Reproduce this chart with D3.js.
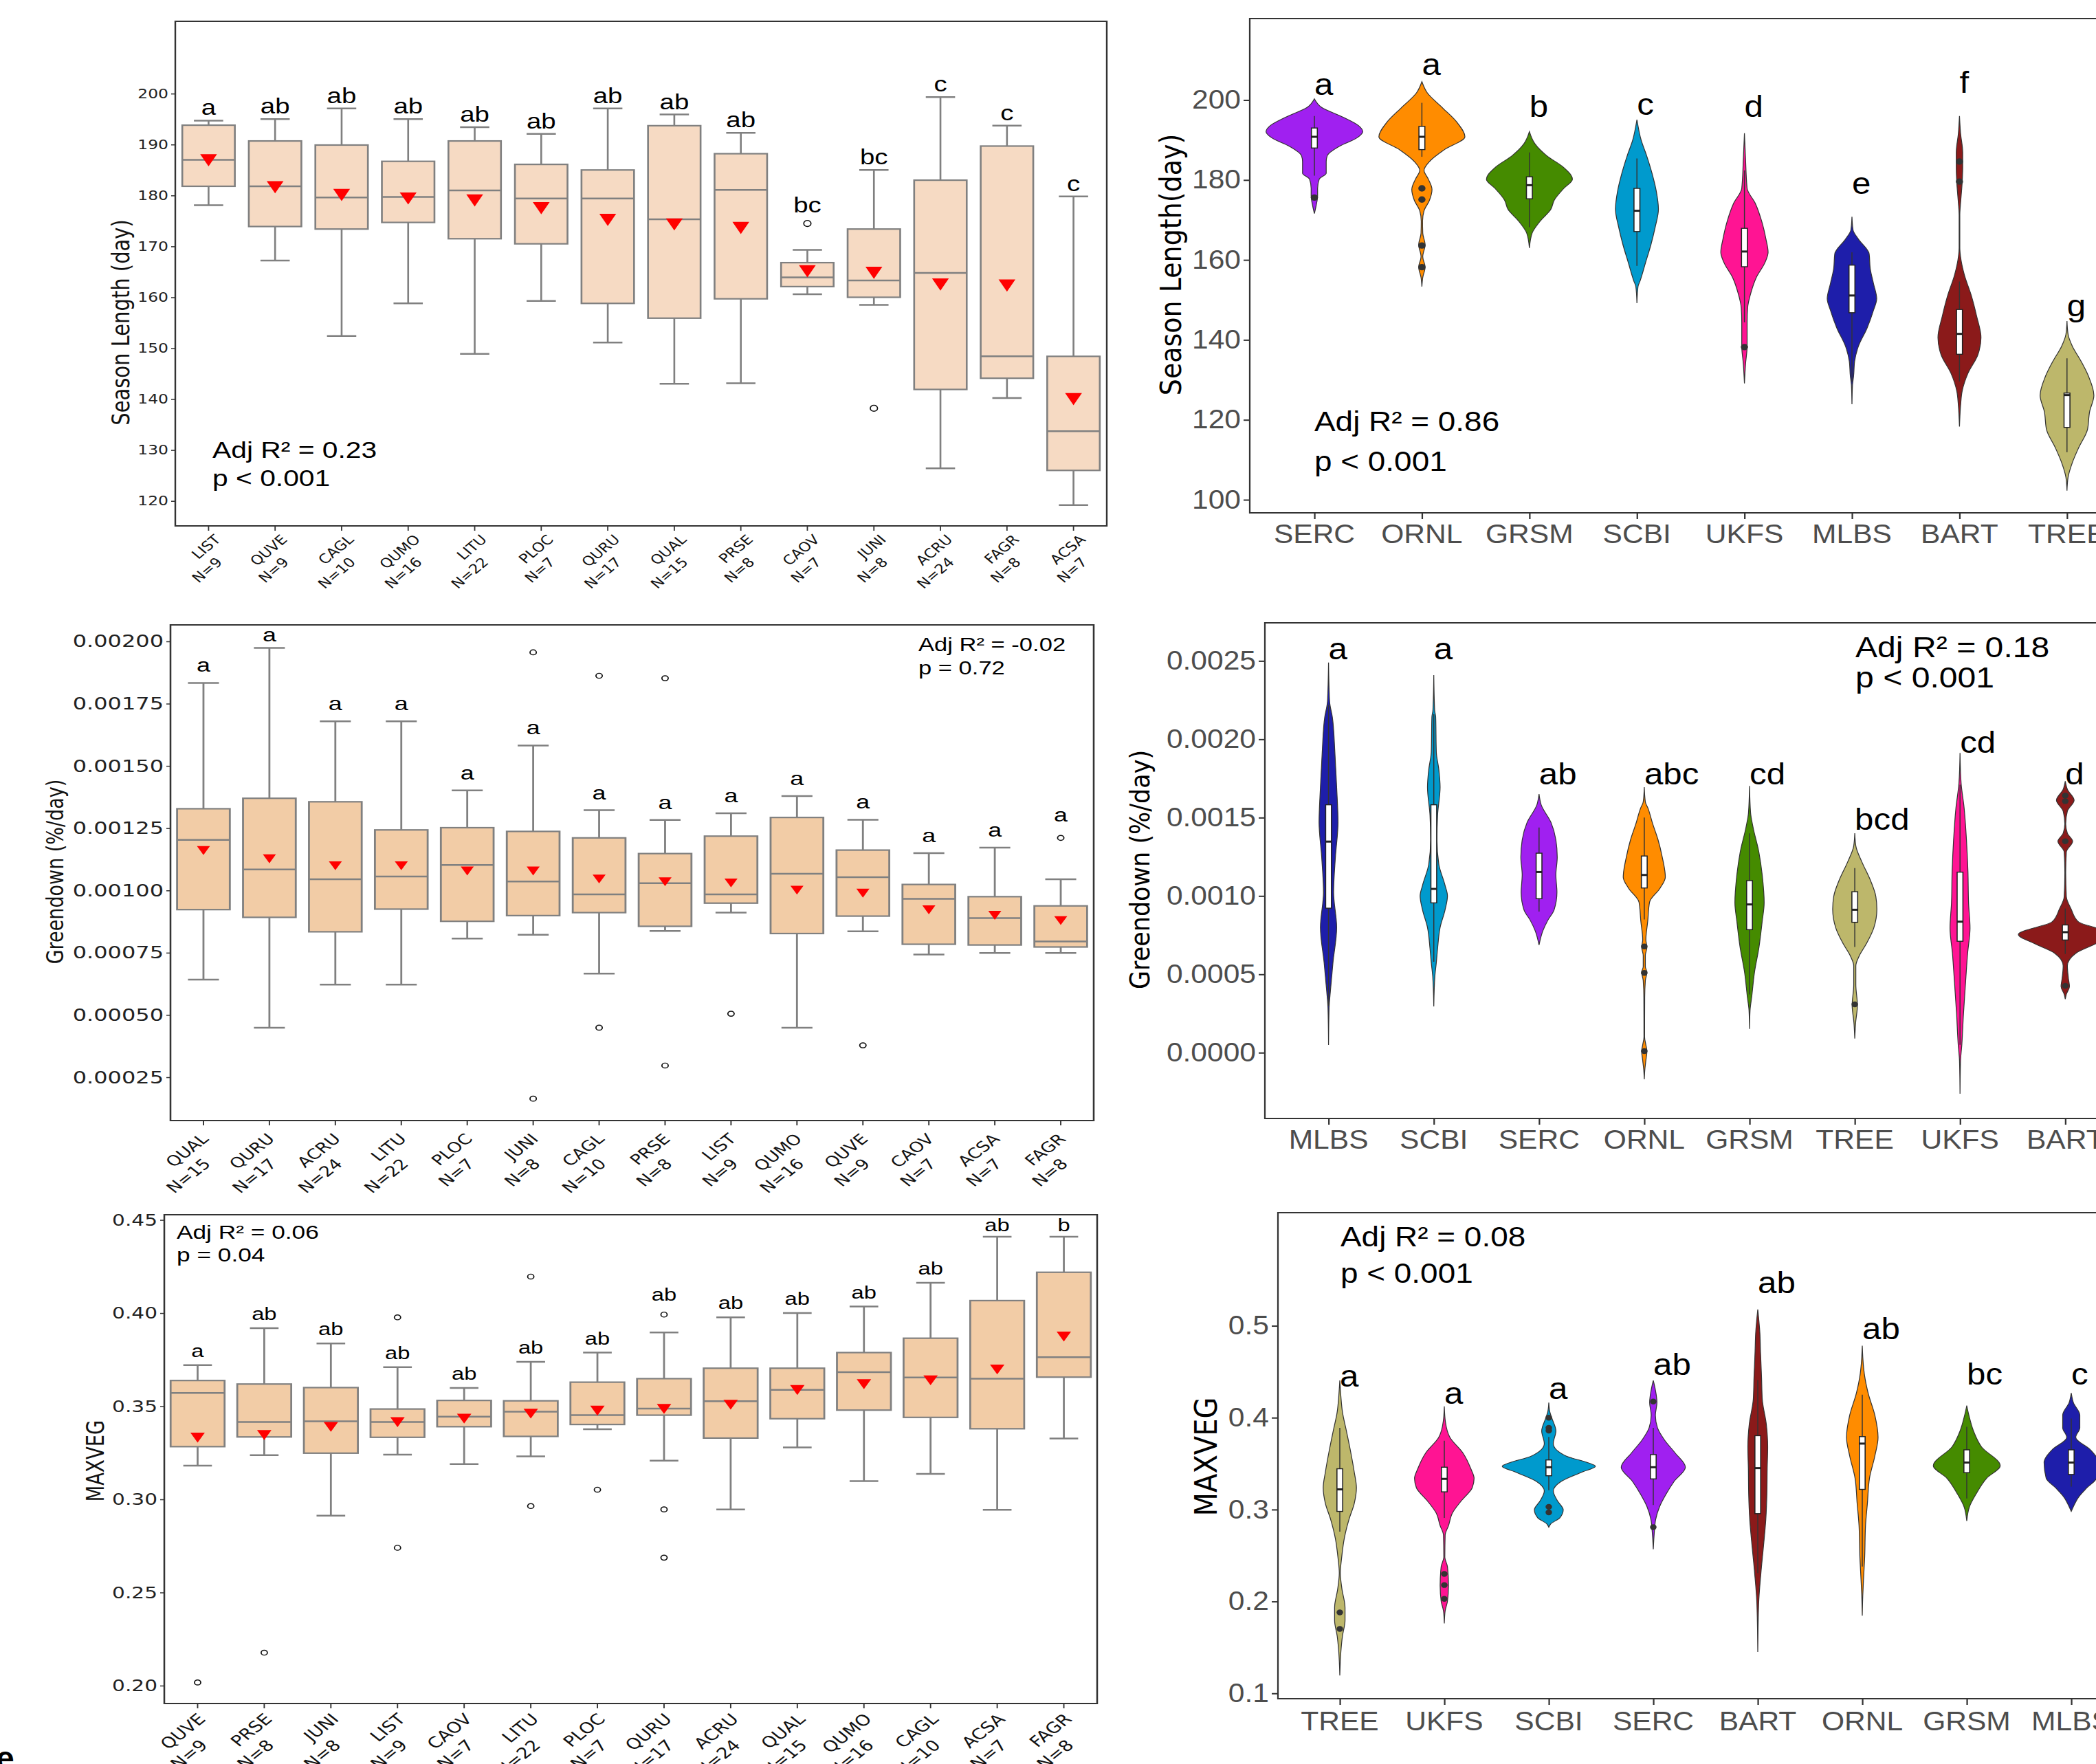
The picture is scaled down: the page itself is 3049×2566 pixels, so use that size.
<!DOCTYPE html>
<html lang="en">
<head>
<meta charset="UTF-8">
<title>Season length, greendown and MAXVEG by species and site</title>
<script src="https://cdn.jsdelivr.net/npm/d3@7"></script>
<style>
  body { margin: 0; background: #fff; }
  svg { display: block; }
</style>
</head>
<body>
<div id="container"></div>
<script>
// ---------- Season length by species (box plots) ----------
const slSpecies = ["LIST","QUVE","CAGL","QUMO","LITU","PLOC","QURU","QUAL","PRSE","CAOV","JUNI","ACRU","FAGR","ACSA"];
const slN       = [9,9,10,16,22,7,17,15,8,7,8,24,8,7];
const slLo   = [178.1,167.2,152.4,158.8,148.9,159.3,151.1,143.0,143.1,160.6,158.5,126.4,140.2,119.2];
const slQ1   = [181.8,173.9,173.4,174.7,171.5,170.5,158.8,155.9,159.7,162.1,160.0,141.9,144.1,126.0];
const slMed  = [187.0,181.8,179.6,179.7,181.0,179.4,179.4,175.3,181.1,163.9,163.3,164.8,148.4,133.7];
const slQ3   = [193.8,190.7,189.9,186.7,190.7,186.1,185.0,193.7,188.2,166.8,173.4,183.0,189.7,148.4];
const slHi   = [194.7,195.0,197.1,195.0,193.4,192.1,197.1,195.9,192.3,169.3,185.0,199.3,193.7,179.8];
const slMean = [187.3,182.0,180.5,179.8,179.4,177.9,175.6,174.7,174.0,165.5,165.2,162.9,162.7,140.4];
const slOut  = [[],[],[],[],[],[],[],[],[],[174.5],[138.2],[],[],[]];
const slLetters = ["a","ab","ab","ab","ab","ab","ab","ab","ab","bc","bc","c","c","c"];

// ---------- Greendown by species ----------
const gdSpecies = ["QUAL","QURU","ACRU","LITU","PLOC","JUNI","CAGL","PRSE","LIST","QUMO","QUVE","CAOV","ACSA","FAGR"];
const gdN       = [15,17,24,22,7,8,10,8,9,16,9,7,7,8];
const gdLo   = [0.000642,0.000449,0.000622,0.000622,0.000807,0.000822,0.000666,0.000837,0.000911,0.000449,0.000836,0.000743,0.000749,0.000749];
const gdQ1   = [0.000923,0.000892,0.000834,0.000925,0.000876,0.000899,0.000911,0.000856,0.000949,0.000827,0.000897,0.000784,0.000781,0.000773];
const gdMed  = [0.001203,0.001084,0.001045,0.001056,0.001102,0.001036,0.000984,0.001029,0.000984,0.001067,0.001053,0.000966,0.000889,0.000795];
const gdQ3   = [0.001328,0.001370,0.001356,0.001243,0.001252,0.001237,0.001211,0.001148,0.001218,0.001293,0.001162,0.001024,0.000975,0.000938];
const gdHi   = [0.001833,0.001974,0.001679,0.001679,0.001402,0.001582,0.001322,0.001283,0.001310,0.001379,0.001284,0.001150,0.001172,0.001045];
const gdMean = [0.001166,0.001133,0.001105,0.001105,0.001084,0.001084,0.001052,0.001041,0.001036,0.001007,0.000995,0.000928,0.000906,0.000885];
const gdOut  = [[],[],[],[],[],[0.001956,0.000164],[0.001862,0.000449],[0.001852,0.000297],[0.000505],[],[0.000378],[],[],[0.001211]];
const gdLetters = ["a","a","a","a","a","a","a","a","a","a","a","a","a","a"];

// ---------- MAXVEG by species ----------
const mvSpecies = ["QUVE","PRSE","JUNI","LIST","CAOV","LITU","PLOC","QURU","ACRU","QUAL","QUMO","CAGL","ACSA","FAGR"];
const mvN       = [9,8,8,9,7,22,7,17,24,15,16,10,7,8];
const mvLo   = [0.3181,0.3237,0.2912,0.3240,0.3189,0.3231,0.3377,0.3208,0.2946,0.3279,0.3098,0.3137,0.2944,0.3327];
const mvQ1   = [0.3283,0.3335,0.3248,0.3333,0.3390,0.3338,0.3402,0.3452,0.3329,0.3433,0.3479,0.3440,0.3379,0.3656];
const mvMed  = [0.3571,0.3415,0.3419,0.3415,0.3444,0.3471,0.3452,0.3487,0.3527,0.3588,0.3683,0.3654,0.3648,0.3763];
const mvQ3   = [0.3638,0.3619,0.3600,0.3485,0.3531,0.3529,0.3629,0.3648,0.3704,0.3704,0.3788,0.3865,0.4067,0.4219];
const mvHi   = [0.3721,0.3919,0.3837,0.3710,0.3598,0.3738,0.3788,0.3896,0.3977,0.4000,0.4035,0.4163,0.4410,0.4410];
const mvMean = [0.3340,0.3354,0.3398,0.3423,0.3442,0.3469,0.3485,0.3494,0.3517,0.3596,0.3627,0.3648,0.3706,0.3883];
const mvOut  = [[0.2017],[0.2177],[],[0.3977,0.2740],[],[0.4196,0.2964],[0.3052],[0.3992,0.2946,0.2687],[],[],[],[],[],[]];
const mvLetters = ["a","ab","ab","ab","ab","ab","ab","ab","ab","ab","ab","ab","ab","b"];

// ---------- Season length by site (violins) ----------
// violin outlines: [value, half width as share of category step]
const slSites = ["SERC","ORNL","GRSM","SCBI","UKFS","MLBS","BART","TREE"];
const slSiteLetters = ["a","a","b","c","d","e","f","g"];
const slSiteLetterAt = [204.0,208.9,198.4,199.0,198.4,179.1,204.4,148.5];
const slViolins = [
  [[200.3,0],[198.1,0.07],[195.8,0.26],[193.6,0.41],[192.1,0.45],[190.6,0.40],[188.4,0.23],[186.1,0.12],[184.6,0.11],[181.7,0.11],[180.2,0.045],[177.9,0.03],[176.1,0.03],[173.4,0.015],[171.6,0]],
  [[204.6,0],[201.8,0.05],[198.1,0.19],[194.3,0.33],[190.8,0.40],[187.6,0.21],[184.6,0.07],[182.4,0.02],[180.2,0.06],[177.6,0.094],[174.9,0.07],[172.3,0.02],[169.7,0.006],[166.7,0.008],[163.8,0.03],[160.8,0.008],[158.2,0.03],[155.6,0.008],[153.3,0]],
  [[192.1,0],[189.1,0.05],[186.1,0.16],[183.1,0.32],[180.2,0.40],[177.9,0.32],[174.9,0.23],[172.7,0.20],[169.7,0.10],[166.7,0.025],[163.0,0]],
  [[195.1,0],[189.9,0.04],[186.1,0.09],[181.7,0.14],[177.2,0.18],[172.7,0.20],[168.2,0.17],[163.8,0.13],[159.3,0.08],[154.8,0.03],[153.3,0.01],[149.2,0]],
  [[191.7,0],[185.4,0.01],[177.9,0.025],[174.2,0.10],[169.7,0.16],[165.2,0.20],[161.9,0.22],[159.3,0.19],[155.6,0.11],[151.8,0.06],[148.1,0.03],[144.4,0.025],[138.4,0.025],[133.9,0.01],[129.1,0]],
  [[170.8,0],[167.5,0.01],[165.2,0.06],[161.5,0.16],[157.8,0.17],[154.1,0.20],[150.3,0.23],[147.4,0.20],[142.9,0.14],[138.4,0.06],[134.7,0.025],[130.9,0.015],[128.7,0.005],[123.9,0]],
  [[196.0,0],[191.7,0.01],[186.9,0.03],[183.1,0.03],[179.4,0.025],[174.2,0.01],[171.2,0.003],[163.0,0.003],[160.8,0.01],[156.3,0.045],[151.1,0.11],[145.9,0.16],[140.6,0.20],[136.2,0.17],[131.7,0.08],[127.2,0.025],[123.5,0.01],[118.3,0]],
  [[144.7,0],[141.4,0.01],[138.4,0.05],[134.7,0.13],[130.9,0.20],[126.1,0.25],[122.0,0.21],[117.5,0.19],[113.1,0.11],[109.3,0.05],[105.6,0.01],[102.3,0]]
];
// [lower whisker, q1, median, q3, upper whisker]
const slSiteBox = [[181.1,188.0,190.8,193.0,196.0],[185.8,187.6,190.8,193.4,199.3],[168.2,175.3,178.7,180.8,186.9],[158.5,167.1,172.3,177.9,185.4],
                   [144.4,158.3,162.1,167.9,182.4],[129.5,146.8,151.1,158.7,161.9],[129.6,136.4,141.5,147.6,154.6],[111.9,118.1,126.2,126.7,135.4]];
const slSiteDots = [[175.6],[177.9,175.1,163.6,158.2],[],[],[138.2],[],[184.6,179.6],[]];

// ---------- Greendown by site ----------
const gdSites = ["MLBS","SCBI","SERC","ORNL","GRSM","TREE","UKFS","BART"];
const gdSiteLetters = ["a","a","ab","abc","cd","bcd","cd","d"];
const gdSiteLetterAt = [0.002578,0.002578,0.001779,0.001779,0.001779,0.001488,0.001981,0.001779];
const gdViolins = [
  [[0.00249,0],[0.002242,0.01],[0.002142,0.036],[0.001918,0.06],[0.001694,0.077],[0.00147,0.09],[0.001247,0.065],[0.001023,0.048],[0.000799,0.077],[0.000575,0.042],[0.000396,0.018],[0.000284,0.005],[0.000049,0]],
  [[0.00241,0],[0.002187,0.008],[0.002142,0.018],[0.001918,0.024],[0.001806,0.048],[0.001694,0.06],[0.001515,0.036],[0.001358,0.03],[0.001202,0.048],[0.001068,0.107],[0.001,0.13],[0.000911,0.107],[0.000799,0.06],[0.000665,0.036],[0.000575,0.024],[0.000486,0.01],[0.000295,0]],
  [[0.00165,0],[0.001582,0.02],[0.00147,0.113],[0.001358,0.16],[0.001247,0.173],[0.001135,0.16],[0.001023,0.17],[0.000911,0.143],[0.000844,0.083],[0.000777,0.036],[0.000687,0]],
  [[0.001694,0],[0.0016,0.01],[0.00156,0.035],[0.00146,0.08],[0.00136,0.13],[0.00125,0.17],[0.00112,0.2],[0.00105,0.15],[0.00096,0.05],[0.00084,0.033],[0.00072,0.015],[0.000674,0.025],[0.00062,0.01],[0.00055,0.01],[0.000513,0.025],[0.00046,0.01],[0.00035,0.004],[0.0001,0.003],[0.00005,0.015],[0.00001,0.025],[-0.00005,0.015],[-0.00011,0.005],[-0.00017,0]],
  [[0.001702,0],[0.00153,0.01],[0.00144,0.033],[0.001279,0.089],[0.001118,0.123],[0.000957,0.139],[0.000836,0.12],[0.000674,0.09],[0.000513,0.047],[0.000352,0.02],[0.000271,0.005],[0.000151,0]],
  [[0.0014,0],[0.001319,0.01],[0.001218,0.067],[0.001098,0.15],[0.000997,0.2],[0.000916,0.21],[0.000795,0.18],[0.000695,0.11],[0.000614,0.04],[0.000554,0.01],[0.000433,0.01],[0.000302,0.025],[0.000191,0.008],[0.00009,0]],
  [[0.001913,0],[0.001722,0.01],[0.001561,0.039],[0.001359,0.061],[0.001158,0.075],[0.000957,0.081],[0.000795,0.095],[0.000634,0.072],[0.000453,0.053],[0.000251,0.033],[0.00005,0.017],[-0.000051,0.005],[-0.000262,0]],
  [[0.001732,0],[0.00168,0.02],[0.001611,0.084],[0.001541,0.02],[0.00146,0.004],[0.0014,0.02],[0.001349,0.07],[0.00128,0.01],[0.00115,0.004],[0.000997,0.01],[0.000916,0.056],[0.000835,0.125],[0.000755,0.446],[0.000695,0.29],[0.000634,0.1],[0.000554,0.02],[0.000473,0.03],[0.000423,0.04],[0.000372,0.01],[0.000342,0]]
];
const gdSiteBox = [[0.0003,0.000922,0.001347,0.001582,0.00222],[0.00058,0.000956,0.001045,0.001582,0.00216],[0.0009,0.000983,0.001153,0.001273,0.001437],[0.00085,0.001051,0.001134,0.001255,0.0015],
                   [0.000372,0.000785,0.000946,0.001098,0.0014],[0.000674,0.000832,0.000912,0.001027,0.001178],[0.00005,0.000711,0.000836,0.001152,0.00171],[0.00063,0.000719,0.000769,0.000815,0.00092]];
const gdSiteDots = [[],[],[],[0.000678,0.000509,0.00001],[],[0.000308],[],[0.001641,0.001605,0.001349,0.000427]];

// ---------- MAXVEG by site ----------
const mvSites = ["TREE","UKFS","SCBI","SERC","BART","ORNL","GRSM","MLBS"];
const mvSiteLetters = ["a","a","a","ab","ab","ab","bc","c"];
const mvSiteLetterAt = [0.4457,0.4268,0.4320,0.4577,0.5470,0.4972,0.4474,0.4474];
const mvViolins = [
  [[0.4405,0],[0.4234,0.01],[0.4062,0.025],[0.3856,0.063],[0.3650,0.10],[0.3409,0.138],[0.3238,0.159],[0.3066,0.138],[0.2894,0.088],[0.2688,0.043],[0.2482,0.018],[0.2310,0.005],[0.2138,0.02],[0.1932,0.05],[0.1795,0.05],[0.1623,0.025],[0.1451,0.01],[0.1194,0]],
  [[0.4124,0],[0.3959,0.01],[0.3787,0.053],[0.3615,0.179],[0.3444,0.254],[0.3340,0.285],[0.3237,0.267],[0.3100,0.166],[0.2963,0.078],[0.2825,0.04],[0.2722,0.008],[0.2482,0.005],[0.2379,0.03],[0.2173,0.04],[0.2001,0.03],[0.1898,0.008],[0.1761,0]],
  [[0.4165,0],[0.4062,0.01],[0.3993,0.03],[0.3856,0.068],[0.3718,0.043],[0.3581,0.169],[0.3512,0.37],[0.3471,0.446],[0.3409,0.32],[0.3306,0.118],[0.3203,0.043],[0.3100,0.08],[0.2997,0.138],[0.2911,0.106],[0.2843,0.018],[0.2808,0]],
  [[0.4405,0],[0.4302,0.02],[0.4165,0.035],[0.4027,0.02],[0.3890,0.04],[0.3753,0.11],[0.3615,0.21],[0.3461,0.307],[0.3306,0.199],[0.3169,0.123],[0.3031,0.06],[0.2894,0.023],[0.2757,0.01],[0.2568,0]],
  [[0.5178,0],[0.4921,0.02],[0.4715,0.026],[0.4440,0.036],[0.4199,0.043],[0.3925,0.082],[0.3684,0.095],[0.3444,0.09],[0.3169,0.087],[0.2894,0.077],[0.2619,0.056],[0.2310,0.03],[0.1967,0.008],[0.1451,0]],
  [[0.4783,0],[0.4577,0.01],[0.4474,0.02],[0.4268,0.056],[0.4028,0.12],[0.3787,0.151],[0.3581,0.12],[0.3341,0.069],[0.3066,0.049],[0.2825,0.031],[0.2482,0.023],[0.2241,0.012],[0.2070,0.005],[0.1846,0]],
  [[0.4131,0],[0.4028,0.02],[0.3856,0.064],[0.3684,0.14],[0.3478,0.32],[0.3341,0.19],[0.3169,0.089],[0.3031,0.026],[0.2877,0]],
  [[0.4268,0],[0.4165,0.02],[0.4028,0.082],[0.3890,0.082],[0.3787,0.043],[0.3650,0.184],[0.3512,0.26],[0.3340,0.24],[0.3237,0.15],[0.3135,0.07],[0.3031,0.02],[0.2980,0]]
];
const mvSiteBox = [[0.276,0.298,0.322,0.3444,0.389],[0.291,0.3193,0.3334,0.3461,0.375],[0.321,0.3368,0.3461,0.354,0.379],[0.305,0.3334,0.3461,0.3598,0.389],
                   [0.231,0.2956,0.3451,0.3804,0.441],[0.238,0.322,0.3718,0.3794,0.425],[0.312,0.3402,0.3512,0.365,0.39],[0.325,0.3382,0.3512,0.365,0.399]];
const mvSiteDots = [[0.1881,0.1702],[0.23,0.2179,0.2028],[0.4,0.389,0.386,0.303,0.297],[0.4175,0.2808],[],[],[],[]];

const siteColors = { SERC: "#A020F0", ORNL: "#FF8C00", GRSM: "#458B00", SCBI: "#009ACD",
                     UKFS: "#FF1493", MLBS: "#1E1EAA", BART: "#8B1A1A", TREE: "#BDB76B" };

// ---------- drawing ----------
const W = 3049, H = 2566;
const ARIAL = "Liberation Sans, Arial, sans-serif";
const DEJAVU = "DejaVu Sans, Verdana, sans-serif";

const svg = d3.select("#container").append("svg").attr("width", W).attr("height", H);
svg.append("rect").attr("width", W).attr("height", H).attr("fill", "#fff");

function boxPanel(o) {
    const sx = o.sx;  // panels were stretched sideways in the original figure
    const g = svg.append("g").attr("transform", "scale(" + sx + ",1)");
    const L = o.x0 / sx, R = o.x1 / sx;
    const x = d3.scaleBand().domain(o.cats).range([L, R]);
    const y = d3.scaleLinear().domain(o.domain).range([o.y1, o.y0]);
    const bw = x.bandwidth();
    const cx = c => x(c) + bw / 2;

    const ya = g.append("g").attr("transform", "translate(" + L + ",0)")
        .call(d3.axisLeft(y).tickValues(o.ticks).tickFormat(o.fmt).tickSize(6 / sx).tickPadding(4 / sx));
    ya.select(".domain").remove();
    ya.selectAll("line").attr("stroke", "#333").attr("stroke-width", 1.5);
    ya.selectAll("text").attr("font-family", DEJAVU).attr("font-size", o.tickFont).attr("fill", "#222");

    const xa = g.append("g").attr("transform", "translate(0," + o.y1 + ")")
        .call(d3.axisBottom(x).tickSize(7).tickFormat(""));
    xa.select(".domain").remove();
    xa.selectAll("line").attr("stroke", "#333").attr("stroke-width", 1.5);

    // two-line rotated species labels
    o.cats.forEach((c, i) => {
        const t = g.append("g")
            .attr("transform", "translate(" + (cx(c) + o.labDx / sx) + "," + (o.y1 + o.labDy) + ") rotate(-45)")
            .attr("font-family", DEJAVU).attr("font-size", o.labFont).attr("fill", "#111")
            .attr("text-anchor", "end");
        t.append("text").text(c);
        t.append("text").attr("x", -1.15 * o.labFont).attr("y", 1.3 * o.labFont).text("N=" + o.ns[i]);
    });

    const boxes = g.selectAll(null).data(o.cats).enter().append("g");
    boxes.append("line")
        .attr("x1", d => cx(d)).attr("x2", d => cx(d))
        .attr("y1", (d, i) => y(o.hi[i])).attr("y2", (d, i) => y(o.lo[i]))
        .attr("stroke", "#808080").attr("stroke-width", 2.2);
    [o.hi, o.lo].forEach(arr => {
        boxes.append("line")
            .attr("x1", d => cx(d) - bw * o.capW / 2).attr("x2", d => cx(d) + bw * o.capW / 2)
            .attr("y1", (d, i) => y(arr[i])).attr("y2", (d, i) => y(arr[i]))
            .attr("stroke", "#808080").attr("stroke-width", 2.5);
    });
    boxes.append("rect")
        .attr("x", d => cx(d) - bw * o.boxW / 2).attr("width", bw * o.boxW)
        .attr("y", (d, i) => y(o.q3[i])).attr("height", (d, i) => y(o.q1[i]) - y(o.q3[i]))
        .attr("fill", o.fill).attr("stroke", "#808080").attr("stroke-width", 2.2);
    boxes.append("line")
        .attr("x1", d => cx(d) - bw * o.boxW / 2).attr("x2", d => cx(d) + bw * o.boxW / 2)
        .attr("y1", (d, i) => y(o.med[i])).attr("y2", (d, i) => y(o.med[i]))
        .attr("stroke", "#808080").attr("stroke-width", 2.5);
    boxes.append("path")
        .attr("d", d3.symbol().type(d3.symbolTriangle).size(o.triSize))
        .attr("transform", (d, i) => "translate(" + cx(d) + "," + y(o.mean[i]) + ") rotate(180)")
        .attr("fill", "#FF0000");
    o.cats.forEach((c, i) => {
        o.out[i].forEach(v => {
            g.append("circle").attr("cx", cx(c)).attr("cy", y(v)).attr("r", o.outR)
                .attr("fill", "none").attr("stroke", "#111").attr("stroke-width", 1.4);
        });
        // the letter sits over the whisker, or over an outlier lying just above it
        let topY = y(o.hi[i]) - o.letterGap;
        o.out[i].forEach(v => {
            const py = y(v);
            if (py < y(o.hi[i]) && y(o.hi[i]) - py < 65) topY = Math.min(topY, py - o.letterGap - 8);
        });
        topY = Math.max(topY, o.y0 + 24);
        g.append("text").attr("x", cx(c)).attr("y", topY)
            .attr("text-anchor", "middle").attr("font-family", ARIAL).attr("font-size", o.letterFont)
            .attr("fill", "#000").text(o.letters[i]);
    });

    g.append("rect").attr("x", L).attr("y", o.y0).attr("width", R - L).attr("height", o.y1 - o.y0)
        .attr("fill", "none").attr("stroke", "#333").attr("stroke-width", 2);

    g.append("text")
        .attr("transform", "translate(" + (o.titleX / sx) + "," + o.titleY + ") rotate(-90)")
        .attr("text-anchor", "middle").attr("dy", "0.35em")
        .attr("font-family", DEJAVU).attr("font-size", o.titleFont).attr("fill", "#111").text(o.title);

    o.note.forEach((s, k) => {
        g.append("text").attr("x", o.noteX / sx).attr("y", o.noteY[k])
            .attr("font-family", ARIAL).attr("font-size", o.noteFont).attr("fill", "#000").text(s);
    });
}

function violinPanel(o) {
    const sx = o.sx;
    const g = svg.append("g").attr("transform", "scale(" + sx + ",1)");
    const L = o.x0 / sx, R = (W + 40) / sx;
    const n = o.sites.length;
    const x = d3.scalePoint().domain(o.sites).range([o.first / sx, (o.first + (n - 1) * o.step) / sx]);
    const step = o.step / sx;
    const y = d3.scaleLinear().domain(o.domain).range([o.y1, o.y0]);
    const w = d3.scaleLinear().domain([0, 1]).range([0, step]);

    const ya = g.append("g").attr("transform", "translate(" + L + ",0)")
        .call(d3.axisLeft(y).tickValues(o.ticks).tickFormat(o.fmt).tickSize(9 / sx).tickPadding(4 / sx));
    ya.select(".domain").remove();
    ya.selectAll("line").attr("stroke", "#333").attr("stroke-width", 2);
    ya.selectAll("text").attr("font-family", ARIAL).attr("font-size", o.tickFont).attr("fill", "#4D4D4D");

    const xa = g.append("g").attr("transform", "translate(0," + o.y1 + ")")
        .call(d3.axisBottom(x).tickSize(9).tickFormat(""));
    xa.select(".domain").remove();
    xa.selectAll("line").attr("stroke", "#333").attr("stroke-width", 2);

    g.selectAll(null).data(o.sites).enter().append("text")
        .attr("x", d => x(d)).attr("y", o.labY).attr("text-anchor", "middle")
        .attr("font-family", ARIAL).attr("font-size", o.labFont).attr("fill", "#4D4D4D").text(d => d);

    const area = d3.area()
        .x0(d => -w(d[1])).x1(d => w(d[1])).y(d => y(d[0]))
        .curve(d3.curveMonotoneY);
    const bw = step * 0.055;

    const vg = g.selectAll(null).data(o.sites).enter().append("g")
        .attr("transform", d => "translate(" + x(d) + ",0)");
    vg.append("path").attr("d", (d, i) => area(o.violins[i]))
        .attr("fill", d => siteColors[d]).attr("stroke", "#333").attr("stroke-width", 1.1);
    vg.append("line")
        .attr("y1", (d, i) => y(o.box[i][4])).attr("y2", (d, i) => y(o.box[i][0]))
        .attr("stroke", "#333").attr("stroke-width", 1.3);
    vg.append("rect")
        .attr("x", -bw / 2).attr("width", bw)
        .attr("y", (d, i) => y(o.box[i][3])).attr("height", (d, i) => y(o.box[i][1]) - y(o.box[i][3]))
        .attr("fill", "#fff").attr("stroke", "#222").attr("stroke-width", 1.4);
    vg.append("line")
        .attr("x1", -bw / 2).attr("x2", bw / 2)
        .attr("y1", (d, i) => y(o.box[i][2])).attr("y2", (d, i) => y(o.box[i][2]))
        .attr("stroke", "#222").attr("stroke-width", 3);
    vg.each(function (d, i) {
        d3.select(this).selectAll("circle").data(o.dots[i]).enter().append("circle")
            .attr("cx", 0).attr("cy", v => y(v)).attr("r", o.dotR / sx * 1.05).attr("fill", "#333");
    });
    vg.append("text")
        .attr("y", (d, i) => y(o.letterAt[i])).attr("dy", "0.35em")
        .attr("font-family", ARIAL).attr("font-size", o.letterFont).attr("fill", "#000")
        .text((d, i) => o.letters[i]);

    g.append("rect").attr("x", L).attr("y", o.y0).attr("width", R - L).attr("height", o.y1 - o.y0)
        .attr("fill", "none").attr("stroke", "#333").attr("stroke-width", 2);

    g.append("text")
        .attr("transform", "translate(" + (o.titleX / sx) + "," + o.titleY + ") rotate(-90)")
        .attr("text-anchor", "middle").attr("dy", "0.35em")
        .attr("font-family", DEJAVU).attr("font-size", o.titleFont).attr("fill", "#000").text(o.title);

    o.note.forEach((s, k) => {
        g.append("text").attr("x", o.noteX / sx).attr("y", o.noteY[k])
            .attr("font-family", ARIAL).attr("font-size", o.noteFont).attr("fill", "#000").text(s);
    });
}

// season length by species
boxPanel({
    sx: 1.2, x0: 255, x1: 1610, y0: 31, y1: 765, domain: [115.1, 214.2],
    ticks: d3.range(120, 201, 10), fmt: d3.format("d"), tickFont: 19.5,
    cats: slSpecies, ns: slN, lo: slLo, q1: slQ1, med: slMed, q3: slQ3, hi: slHi, mean: slMean, out: slOut,
    letters: slLetters, letterGap: 8, letterFont: 32,
    labDx: 19, labDy: 21, labFont: 19,
    boxW: 0.79, capW: 0.44, fill: "#F6DAC3", triSize: 180, outR: 4.4,
    title: "Season Length (day)", titleX: 176, titleY: 469, titleFont: 29,
    note: ["Adj R\u00B2 = 0.23", "p < 0.001"], noteX: 309, noteY: [666, 707], noteFont: 34
});

// greendown by species
boxPanel({
    sx: 1.28, x0: 248, x1: 1591, y0: 909, y1: 1630, domain: [0.0000761, 0.0020662],
    ticks: d3.range(1, 9).map(k => k * 0.00025), fmt: d3.format(".5f"), tickFont: 25,
    cats: gdSpecies, ns: gdN, lo: gdLo, q1: gdQ1, med: gdMed, q3: gdQ3, hi: gdHi, mean: gdMean, out: gdOut,
    letters: gdLetters, letterGap: 16, letterFont: 28,
    labDx: 9, labDy: 28, labFont: 21,
    boxW: 0.8, capW: 0.47, fill: "#F2CCA6", triSize: 95, outR: 3.6,
    title: "Greendown (%/day)", titleX: 80, titleY: 1268, titleFont: 27,
    note: ["Adj R\u00B2 = -0.02", "p = 0.72"], noteX: 1336, noteY: [947, 981], noteFont: 27
});

// MAXVEG by species
boxPanel({
    sx: 1.26, x0: 239, x1: 1596, y0: 1767, y1: 2478, domain: [0.1904, 0.4528],
    ticks: [0.20, 0.25, 0.30, 0.35, 0.40, 0.45], fmt: d3.format(".2f"), tickFont: 23.5,
    cats: mvSpecies, ns: mvN, lo: mvLo, q1: mvQ1, med: mvMed, q3: mvQ3, hi: mvHi, mean: mvMean, out: mvOut,
    letters: mvLetters, letterGap: 12, letterFont: 26,
    labDx: 13, labDy: 24, labFont: 22,
    boxW: 0.81, capW: 0.43, fill: "#F2CCA6", triSize: 120, outR: 3.6,
    title: "MAXVEG", titleX: 139, titleY: 2125, titleFont: 27.5,
    note: ["Adj R\u00B2 = 0.06", "p = 0.04"], noteX: 257, noteY: [1802, 1835], noteFont: 28
});

// season length by site
violinPanel({
    sx: 1.12, x0: 1818, y0: 27, y1: 746, domain: [96.73, 220.38],
    ticks: d3.range(100, 201, 20), fmt: d3.format("d"), tickFont: 38,
    sites: slSites, first: 1912, step: 156.4, violins: slViolins, box: slSiteBox, dots: slSiteDots, dotR: 5,
    letters: slSiteLetters, letterAt: slSiteLetterAt, letterFont: 44,
    labY: 790, labFont: 38,
    title: "Season Length(day)", titleX: 1703, titleY: 385, titleFont: 38,
    note: ["Adj R\u00B2 = 0.86", "p < 0.001"], noteX: 1912, noteY: [627, 685], noteFont: 41
});

// greendown by site
violinPanel({
    sx: 1.12, x0: 1840, y0: 906, y1: 1627, domain: [-0.000420, 0.002743],
    ticks: [0, 0.0005, 0.001, 0.0015, 0.002, 0.0025], fmt: d3.format(".4f"), tickFont: 38,
    sites: gdSites, first: 1932.6, step: 153.1, violins: gdViolins, box: gdSiteBox, dots: gdSiteDots, dotR: 4.5,
    letters: gdSiteLetters, letterAt: gdSiteLetterAt, letterFont: 44,
    labY: 1671, labFont: 38,
    title: "Greendown (%/day)", titleX: 1658, titleY: 1265, titleFont: 35,
    note: ["Adj R\u00B2 = 0.18", "p < 0.001"], noteX: 2699, noteY: [956, 1000], noteFont: 43
});

// MAXVEG by site
violinPanel({
    sx: 1.12, x0: 1859, y0: 1764, y1: 2471, domain: [0.0942, 0.6231],
    ticks: [0.1, 0.2, 0.3, 0.4, 0.5], fmt: d3.format(".1f"), tickFont: 38,
    sites: mvSites, first: 1949, step: 152, violins: mvViolins, box: mvSiteBox, dots: mvSiteDots, dotR: 4.5,
    letters: mvSiteLetters, letterAt: mvSiteLetterAt, letterFont: 44,
    labY: 2517, labFont: 38,
    title: "MAXVEG", titleX: 1754, titleY: 2119, titleFont: 40,
    note: ["Adj R\u00B2 = 0.08", "p < 0.001"], noteX: 1950, noteY: [1813, 1866], noteFont: 41
});

// clipped panel tag at the lower-left edge
svg.append("text").attr("x", -6).attr("y", 2574)
    .attr("font-family", ARIAL).attr("font-size", 48).attr("font-weight", "bold").text("e");
</script>
</body>
</html>
